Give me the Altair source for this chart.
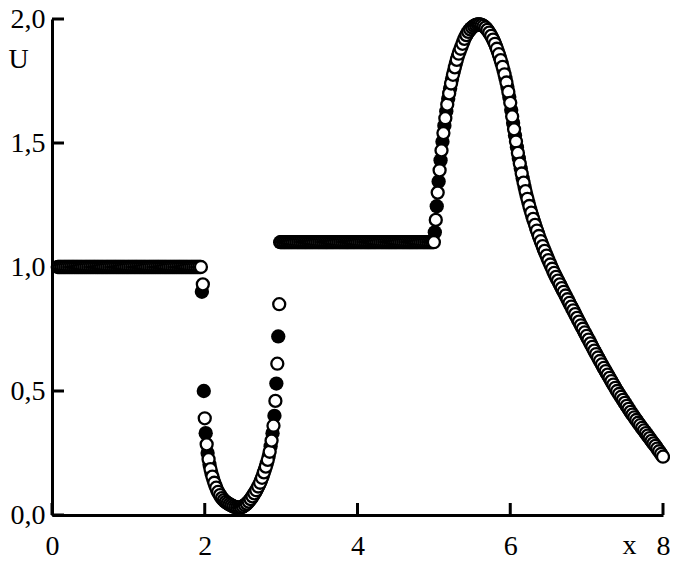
import altair as alt
import pandas as pd

# ---------------- data ----------------
# open circles (drawn on top)
OPEN_FLAT1_LEVEL = 1.0
OPEN_FLAT1_X = [0.075, 0.1, 0.125, 0.15, 0.175, 0.2, 0.225, 0.25, 0.275, 0.3, 0.325, 0.35, 0.375, 0.4,
                0.425, 0.45, 0.475, 0.5, 0.525, 0.55, 0.575, 0.6, 0.625, 0.65, 0.675, 0.7, 0.725, 0.75,
                0.775, 0.8, 0.825, 0.85, 0.875, 0.9, 0.925, 0.95, 0.975, 1.0, 1.025, 1.05, 1.075, 1.1,
                1.125, 1.15, 1.175, 1.2, 1.225, 1.25, 1.275, 1.3, 1.325, 1.35, 1.375, 1.4, 1.425, 1.45,
                1.475, 1.5, 1.525, 1.55, 1.575, 1.6, 1.625, 1.65, 1.675, 1.7, 1.725, 1.75, 1.775, 1.8,
                1.825, 1.85, 1.875, 1.9, 1.925, 1.95]
OPEN_VALLEY = [(1.975, 0.93), (2.0, 0.39), (2.025, 0.285), (2.05, 0.225), (2.075, 0.185), (2.1, 0.155),
               (2.125, 0.13), (2.15, 0.11), (2.175, 0.093), (2.2, 0.08), (2.225, 0.068), (2.25, 0.06),
               (2.275, 0.053), (2.3, 0.048), (2.325, 0.043), (2.35, 0.039), (2.375, 0.035), (2.4, 0.032),
               (2.425, 0.03), (2.45, 0.03), (2.475, 0.031), (2.5, 0.034), (2.525, 0.04), (2.55, 0.046),
               (2.575, 0.054), (2.6, 0.064), (2.625, 0.075), (2.65, 0.087), (2.675, 0.1), (2.7, 0.115),
               (2.725, 0.13), (2.75, 0.15), (2.775, 0.172), (2.8, 0.195), (2.825, 0.222), (2.85, 0.255),
               (2.875, 0.3), (2.9, 0.36), (2.925, 0.46), (2.95, 0.61), (2.975, 0.85)]
OPEN_FLAT2_LEVEL = 1.1
OPEN_FLAT2_X = [3.0, 3.025, 3.05, 3.075, 3.1, 3.125, 3.15, 3.175, 3.2, 3.225, 3.25, 3.275, 3.3, 3.325,
                3.35, 3.375, 3.4, 3.425, 3.45, 3.475, 3.5, 3.525, 3.55, 3.575, 3.6, 3.625, 3.65, 3.675,
                3.7, 3.725, 3.75, 3.775, 3.8, 3.825, 3.85, 3.875, 3.9, 3.925, 3.95, 3.975, 4.0, 4.025,
                4.05, 4.075, 4.1, 4.125, 4.15, 4.175, 4.2, 4.225, 4.25, 4.275, 4.3, 4.325, 4.35, 4.375,
                4.4, 4.425, 4.45, 4.475, 4.5, 4.525, 4.55, 4.575, 4.6, 4.625, 4.65, 4.675, 4.7, 4.725,
                4.75, 4.775, 4.8, 4.825, 4.85, 4.875, 4.9, 4.925, 4.95, 4.975, 5.0]
OPEN_PEAK = [(5.025, 1.19), (5.05, 1.3), (5.075, 1.39), (5.1, 1.47), (5.125, 1.54), (5.15, 1.6),
             (5.175, 1.655), (5.2, 1.7), (5.225, 1.74), (5.25, 1.775), (5.275, 1.805), (5.3, 1.835),
             (5.325, 1.86), (5.35, 1.88), (5.375, 1.9), (5.4, 1.92), (5.425, 1.935), (5.45, 1.948),
             (5.475, 1.958), (5.5, 1.966), (5.525, 1.972), (5.55, 1.976), (5.575, 1.978), (5.6, 1.978),
             (5.625, 1.976), (5.65, 1.972), (5.675, 1.965), (5.7, 1.956), (5.725, 1.945), (5.75, 1.932),
             (5.775, 1.917), (5.8, 1.9), (5.825, 1.88), (5.85, 1.858), (5.875, 1.834), (5.9, 1.807),
             (5.925, 1.777), (5.95, 1.744), (5.975, 1.706), (6.0, 1.662), (6.025, 1.607), (6.05, 1.555),
             (6.075, 1.506), (6.1, 1.46), (6.125, 1.417), (6.15, 1.377), (6.175, 1.34), (6.2, 1.306),
             (6.225, 1.275), (6.25, 1.246), (6.275, 1.219), (6.3, 1.194), (6.325, 1.17), (6.35, 1.147),
             (6.375, 1.125), (6.4, 1.104), (6.425, 1.084), (6.45, 1.065), (6.475, 1.046), (6.5, 1.028),
             (6.525, 1.01), (6.55, 0.993), (6.575, 0.976), (6.6, 0.96), (6.625, 0.945), (6.65, 0.93),
             (6.675, 0.915), (6.7, 0.9), (6.725, 0.885), (6.75, 0.87), (6.775, 0.855), (6.8, 0.84),
             (6.825, 0.825), (6.85, 0.81), (6.875, 0.795), (6.9, 0.78), (6.925, 0.765), (6.95, 0.751),
             (6.975, 0.736), (7.0, 0.722), (7.025, 0.707), (7.05, 0.692), (7.075, 0.678), (7.1, 0.663),
             (7.125, 0.649), (7.15, 0.635), (7.175, 0.621), (7.2, 0.607), (7.225, 0.593), (7.25, 0.58),
             (7.275, 0.566), (7.3, 0.553), (7.325, 0.54), (7.35, 0.526), (7.375, 0.513), (7.4, 0.5),
             (7.425, 0.488), (7.45, 0.476), (7.475, 0.464), (7.5, 0.452), (7.525, 0.44), (7.55, 0.428),
             (7.575, 0.416), (7.6, 0.405), (7.625, 0.394), (7.65, 0.383), (7.675, 0.372), (7.7, 0.362),
             (7.725, 0.351), (7.75, 0.341), (7.775, 0.33), (7.8, 0.32), (7.825, 0.31), (7.85, 0.299),
             (7.875, 0.289), (7.9, 0.279), (7.925, 0.268), (7.95, 0.257), (7.975, 0.246), (8.0, 0.235)]

# filled circles (drawn underneath)
FILLED_FLAT1_LEVEL = 1.0
FILLED_FLAT1_X = [0.0875, 0.1125, 0.1375, 0.1625, 0.1875, 0.2125, 0.2375, 0.2625, 0.2875, 0.3125,
                  0.3375, 0.3625, 0.3875, 0.4125, 0.4375, 0.4625, 0.4875, 0.5125, 0.5375, 0.5625,
                  0.5875, 0.6125, 0.6375, 0.6625, 0.6875, 0.7125, 0.7375, 0.7625, 0.7875, 0.8125,
                  0.8375, 0.8625, 0.8875, 0.9125, 0.9375, 0.9625, 0.9875, 1.0125, 1.0375, 1.0625,
                  1.0875, 1.1125, 1.1375, 1.1625, 1.1875, 1.2125, 1.2375, 1.2625, 1.2875, 1.3125,
                  1.3375, 1.3625, 1.3875, 1.4125, 1.4375, 1.4625, 1.4875, 1.5125, 1.5375, 1.5625,
                  1.5875, 1.6125, 1.6375, 1.6625, 1.6875, 1.7125, 1.7375, 1.7625, 1.7875, 1.8125,
                  1.8375, 1.8625, 1.8875, 1.9125, 1.9375]
FILLED_VALLEY = [(1.9625, 0.9), (1.9875, 0.5), (2.0125, 0.33), (2.0375, 0.25), (2.0625, 0.203),
                 (2.0875, 0.169), (2.1125, 0.142), (2.1375, 0.12), (2.1625, 0.101), (2.1875, 0.086),
                 (2.2125, 0.074), (2.2375, 0.064), (2.2625, 0.056), (2.2875, 0.05), (2.3125, 0.045),
                 (2.3375, 0.041), (2.3625, 0.037), (2.3875, 0.033), (2.4125, 0.031), (2.4375, 0.03),
                 (2.4625, 0.03), (2.4875, 0.032), (2.5125, 0.037), (2.5375, 0.043), (2.5625, 0.05),
                 (2.5875, 0.059), (2.6125, 0.069), (2.6375, 0.081), (2.6625, 0.093), (2.6875, 0.107),
                 (2.7125, 0.122), (2.7375, 0.14), (2.7625, 0.161), (2.7875, 0.183), (2.8125, 0.208),
                 (2.8375, 0.238), (2.8625, 0.277), (2.8875, 0.33), (2.9125, 0.4), (2.9375, 0.53),
                 (2.9625, 0.72)]
FILLED_FLAT2_LEVEL = 1.1
FILLED_FLAT2_X = [2.9875, 3.0125, 3.0375, 3.0625, 3.0875, 3.1125, 3.1375, 3.1625, 3.1875, 3.2125,
                  3.2375, 3.2625, 3.2875, 3.3125, 3.3375, 3.3625, 3.3875, 3.4125, 3.4375, 3.4625,
                  3.4875, 3.5125, 3.5375, 3.5625, 3.5875, 3.6125, 3.6375, 3.6625, 3.6875, 3.7125,
                  3.7375, 3.7625, 3.7875, 3.8125, 3.8375, 3.8625, 3.8875, 3.9125, 3.9375, 3.9625,
                  3.9875, 4.0125, 4.0375, 4.0625, 4.0875, 4.1125, 4.1375, 4.1625, 4.1875, 4.2125,
                  4.2375, 4.2625, 4.2875, 4.3125, 4.3375, 4.3625, 4.3875, 4.4125, 4.4375, 4.4625,
                  4.4875, 4.5125, 4.5375, 4.5625, 4.5875, 4.6125, 4.6375, 4.6625, 4.6875, 4.7125,
                  4.7375, 4.7625, 4.7875, 4.8125, 4.8375, 4.8625, 4.8875, 4.9125, 4.9375, 4.9625,
                  4.9875]
FILLED_PEAK = [(5.0125, 1.14), (5.0375, 1.245), (5.0625, 1.345), (5.0875, 1.43), (5.1125, 1.505),
               (5.1375, 1.57), (5.1625, 1.628), (5.1875, 1.678), (5.2125, 1.72), (5.2375, 1.758),
               (5.2625, 1.79), (5.2875, 1.82), (5.3125, 1.848), (5.3375, 1.87), (5.3625, 1.89),
               (5.3875, 1.91), (5.4125, 1.928), (5.4375, 1.942), (5.4625, 1.953), (5.4875, 1.962),
               (5.5125, 1.969), (5.5375, 1.974), (5.5625, 1.977), (5.5875, 1.978), (5.6125, 1.977),
               (5.6375, 1.974), (5.6625, 1.969), (5.6875, 1.961), (5.7125, 1.951), (5.7375, 1.939),
               (5.7625, 1.925), (5.7875, 1.909), (5.8125, 1.89), (5.8375, 1.869), (5.8625, 1.846),
               (5.8875, 1.821), (5.9125, 1.792), (5.9375, 1.761), (5.9625, 1.726), (5.9875, 1.685),
               (6.0125, 1.633), (6.0375, 1.581), (6.0625, 1.53), (6.0875, 1.483), (6.1125, 1.438),
               (6.1375, 1.397), (6.1625, 1.358), (6.1875, 1.323), (6.2125, 1.29), (6.2375, 1.26),
               (6.2625, 1.232), (6.2875, 1.206), (6.3125, 1.182), (6.3375, 1.158), (6.3625, 1.136),
               (6.3875, 1.114), (6.4125, 1.094), (6.4375, 1.074), (6.4625, 1.055), (6.4875, 1.037),
               (6.5125, 1.019), (6.5375, 1.001), (6.5625, 0.984), (6.5875, 0.968), (6.6125, 0.952),
               (6.6375, 0.937), (6.6625, 0.922), (6.6875, 0.907), (6.7125, 0.892), (6.7375, 0.877),
               (6.7625, 0.862), (6.7875, 0.847), (6.8125, 0.832), (6.8375, 0.817), (6.8625, 0.802),
               (6.8875, 0.787), (6.9125, 0.772), (6.9375, 0.758), (6.9625, 0.743), (6.9875, 0.729),
               (7.0125, 0.714), (7.0375, 0.7), (7.0625, 0.685), (7.0875, 0.67), (7.1125, 0.656),
               (7.1375, 0.642), (7.1625, 0.628), (7.1875, 0.614), (7.2125, 0.6), (7.2375, 0.586),
               (7.2625, 0.573), (7.2875, 0.56), (7.3125, 0.546), (7.3375, 0.533), (7.3625, 0.52),
               (7.3875, 0.506), (7.4125, 0.494), (7.4375, 0.482), (7.4625, 0.47), (7.4875, 0.458),
               (7.5125, 0.446), (7.5375, 0.434), (7.5625, 0.422), (7.5875, 0.41), (7.6125, 0.4),
               (7.6375, 0.388), (7.6625, 0.378), (7.6875, 0.367), (7.7125, 0.356), (7.7375, 0.346),
               (7.7625, 0.336), (7.7875, 0.325), (7.8125, 0.315), (7.8375, 0.304), (7.8625, 0.294),
               (7.8875, 0.284), (7.9125, 0.274), (7.9375, 0.262), (7.9625, 0.252), (7.9875, 0.24)]

X_TICKS = [0, 2, 4, 6, 8]
U_TICKS = [0.0, 0.5, 1.0, 1.5, 2.0]


def build(flat1_x, flat1_level, valley, flat2_x, flat2_level, peak):
    rows = [(x, flat1_level) for x in flat1_x] + list(valley) + \
           [(x, flat2_level) for x in flat2_x] + list(peak)
    return pd.DataFrame(rows, columns=["x", "U"])


open_df = build(OPEN_FLAT1_X, OPEN_FLAT1_LEVEL, OPEN_VALLEY, OPEN_FLAT2_X, OPEN_FLAT2_LEVEL, OPEN_PEAK)
filled_df = build(FILLED_FLAT1_X, FILLED_FLAT1_LEVEL, FILLED_VALLEY, FILLED_FLAT2_X,
                  FILLED_FLAT2_LEVEL, FILLED_PEAK)

FONT = "Liberation Serif"
FS = 28
W, H = 611, 496

xs = alt.Scale(domain=[0, 8], nice=False, zero=False)
ys = alt.Scale(domain=[0, 2], nice=False, zero=False)

XAXIS = alt.Axis(values=X_TICKS, format="d", ticks=False, tickSize=0, grid=False,
                 domainColor="black", domainWidth=3, labelFont=FONT, labelFontSize=FS,
                 labelColor="black", labelPadding=17, labelFlush=False,
                 title="x", titleFont=FONT, titleFontSize=FS, titleFontWeight="normal",
                 titleColor="black", titleX=577, titleY=38, titleAlign="center",
                 titleBaseline="alphabetic")
YAXIS = alt.Axis(values=U_TICKS, labelExpr="replace(format(datum.value, '.1f'), '.', ',')",
                 ticks=False, tickSize=0, grid=False, domainColor="black", domainWidth=3,
                 labelFont=FONT, labelFontSize=FS, labelColor="black", labelPadding=7,
                 labelFlush=False, title="U", titleFont=FONT, titleFontSize=FS,
                 titleFontWeight="normal", titleColor="black", titleAngle=0, titleX=-34, titleY=48,
                 titleAlign="center", titleBaseline="alphabetic")

xtick = alt.Chart(pd.DataFrame({"x": X_TICKS})).mark_rule(color="black", strokeWidth=3).encode(
    x=alt.X("x:Q", scale=xs, axis=XAXIS), y=alt.value(H), y2=alt.value(H - 12))
ytick = alt.Chart(pd.DataFrame({"U": U_TICKS})).mark_rule(color="black", strokeWidth=3).encode(
    y=alt.Y("U:Q", scale=ys, axis=YAXIS), x=alt.value(0), x2=alt.value(12))

filled = alt.Chart(filled_df).mark_circle(color="black", size=205, opacity=1).encode(
    x=alt.X("x:Q", scale=xs, axis=XAXIS), y=alt.Y("U:Q", scale=ys, axis=YAXIS))
opened = alt.Chart(open_df).mark_circle(fill="white", stroke="black", strokeWidth=2.3, size=144,
                                         opacity=1, fillOpacity=1).encode(
    x=alt.X("x:Q", scale=xs, axis=XAXIS), y=alt.Y("U:Q", scale=ys, axis=YAXIS))

chart = alt.layer(xtick, ytick, filled, opened).properties(
    width=W, height=H, autosize="none",
    padding={"left": 44, "top": 11, "right": 7, "bottom": 40},
    background="white",
).configure_view(stroke=None)

chart.save("out.html", embed_options={"renderer": "svg", "actions": False})
